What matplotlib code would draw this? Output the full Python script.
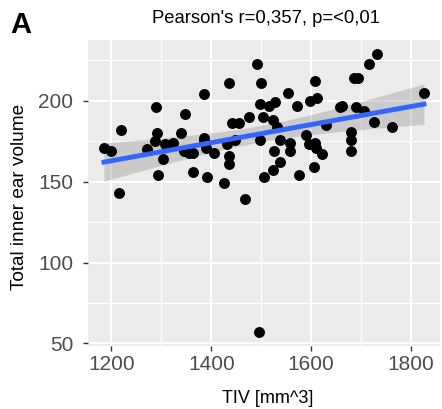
import matplotlib
matplotlib.use('Agg')
import matplotlib.pyplot as plt
import numpy as np

plt.rcParams['font.family'] = ['Liberation Sans', 'DejaVu Sans']

# TIV vs total inner ear volume
tiv = [1185, 1200, 1220, 1216, 1290, 1292, 1287, 1272, 1304, 1294,
       1307, 1323, 1348, 1340, 1346, 1363, 1363, 1385, 1385, 1391,
       1406, 1426, 1435, 1435, 1432, 1435, 1442, 1455, 1475, 1468,
       1447, 1491, 1500, 1498, 1503, 1498, 1505, 1356, 1386, 1389,
       1732, 1716, 1686, 1693, 1608, 1553, 1528, 1515, 1572, 1597,
       1612, 1662, 1658, 1689, 1706, 1826, 1726, 1762, 1680, 1680,
       1680, 1523, 1531, 1538, 1525, 1538, 1523, 1557, 1557, 1590,
       1596, 1607, 1610, 1622, 1605, 1576, 1629, 1496]
vol = [171, 169, 182, 143, 196, 180, 175, 170, 164, 154,
       173, 174, 192, 180, 169, 168, 156, 204, 177, 153,
       168, 149, 166, 161, 173, 211, 186, 186, 190, 139,
       176, 223, 211, 198, 190, 176, 153, 168, 176, 171,
       229, 223, 214, 214, 212, 205, 199, 197, 197, 200,
       202, 197, 196, 196, 194, 205, 187, 184, 181, 176,
       169, 188, 184, 176, 169, 162, 157, 174, 169, 179,
       173, 174, 171, 167, 159, 154, 185, 57]

x = np.array(tiv, dtype=float)
y = np.array(vol, dtype=float)

# linear fit with 95% band, like geom_smooth(method="lm")
n = len(x)
b1, b0 = np.polyfit(x, y, 1)
xs = np.linspace(x.min(), x.max(), 100)
ys = b0 + b1 * xs
res = y - (b0 + b1 * x)
s = np.sqrt(np.sum(res**2) / (n - 2))
se = s * np.sqrt(1/n + (xs - x.mean())**2 / np.sum((x - x.mean())**2))
t = 1.99
lo, hi = ys - t*se, ys + t*se

W, H = 442, 409
fig = plt.figure(figsize=(W/100, H/100), dpi=100)
ax = fig.add_axes([88/W, 1 - 346/H, (440-88)/W, (346-40)/H])
ax.set_facecolor('#EBEBEB')
for sp in ax.spines.values():
    sp.set_visible(False)

ax.set_xticks([1200, 1400, 1600, 1800])
ax.set_yticks([50, 100, 150, 200])
ax.set_xticks([1300, 1500, 1700], minor=True)
ax.set_yticks([75, 125, 175, 225], minor=True)
ax.grid(True, which='major', color='white', lw=1.5)
ax.grid(True, which='minor', color='white', lw=0.8)
ax.set_axisbelow(True)
ax.tick_params(which='major', length=3.5, width=1, color='#333333', labelsize=15, labelcolor='#4D4D4D')
ax.tick_params(axis='x', pad=3)
ax.tick_params(axis='y', pad=7)
ax.tick_params(which='minor', length=0)

ax.fill_between(xs, lo, hi, color='#999999', alpha=0.4, lw=0, zorder=2)
ax.scatter(x, y, s=62, color='black', lw=0, zorder=3)
ax.plot(xs, ys, color='#3366FF', lw=3.5, zorder=4)

xr = x.max() - x.min()
yr = y.max() - y.min()
ax.set_xlim(x.min() - 0.05*xr, x.max() + 0.05*xr)
ax.set_ylim(y.min() - 0.05*yr, y.max() + 0.05*yr)

fig.text(268/W, 1 - 403/H, 'TIV [mm^3]', fontsize=13, ha='center', va='baseline')
fig.text(20/W, 1 - 197/H, 'Total inner ear volume', fontsize=13.7, rotation=90,
         ha='center', va='center')
fig.text(266/W, 1 - 23/H, "Pearson's r=0,357, p=<0,01", fontsize=13.3, ha='center', va='baseline')
fig.text(10/W, 1 - 33/H, 'A', fontsize=21, fontweight='bold', va='baseline')

fig.savefig('out.png', dpi=100)
